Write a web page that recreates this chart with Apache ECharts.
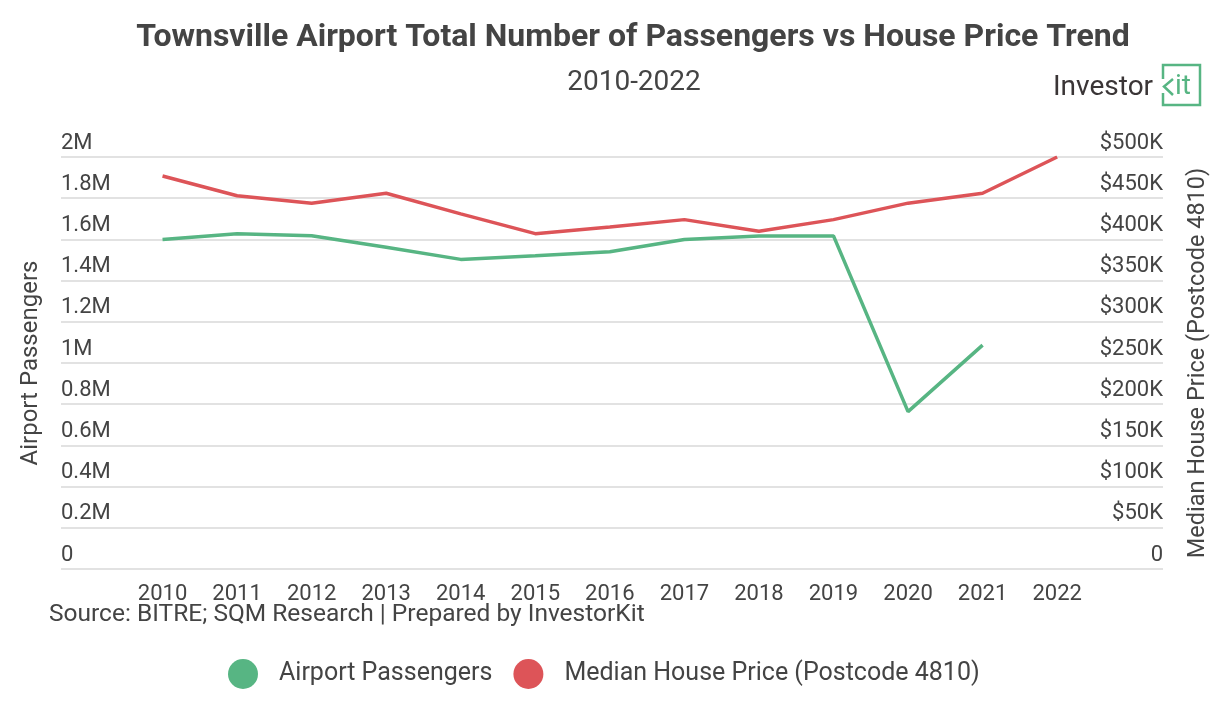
<!DOCTYPE html>
<html>
<head>
<meta charset="utf-8">
<title>Townsville Airport Passengers vs House Price</title>
<script src="https://cdn.jsdelivr.net/npm/echarts@6/dist/echarts.min.js"></script>
<style>
  html, body { margin: 0; padding: 0; background: #fff; }
  #chart { width: 1225px; height: 705px; }
</style>
</head>
<body>
<div id="chart"></div>
<script>
const years = [2010, 2011, 2012, 2013, 2014, 2015, 2016, 2017, 2018, 2019, 2020, 2021, 2022]
// airport passengers (2022 not reported)
const passengers = [1600000, 1628000, 1618000, 1562000, 1503000, 1521000, 1540000, 1600000, 1617000, 1617000, 764000, 1087000, null]
// median house price, postcode 4810
const housePrice = [477000, 453000, 444000, 456000, 431000, 407000, 415000, 424000, 410000, 424000, 444000, 456000, 500000]

const green = '#57b583'
const red = '#dd5458'
const textColor = '#444'
const font = 'Roboto'

const chart = echarts.init(document.getElementById('chart'))

const fmtLeft = v => {
  if (v === 0) return '0'
  const m = v / 1000000
  return (Math.round(m * 10) / 10) + 'M'
}
const fmtRight = v => (v === 0 ? '0' : '$' + Math.round(v / 1000) + 'K')

const option = {
  animation: false,
  textStyle: { fontFamily: font },
  legend: {
    left: 223,
    top: 654,
    icon: 'circle',
    itemWidth: 30,
    itemHeight: 30,
    itemGap: 21,
    textStyle: { fontFamily: font, fontSize: 25, color: textColor, padding: [0, 0, 0, 16] },
    data: ['Airport Passengers', 'Median House Price (Postcode 4810)']
  },
  grid: {
    left: 61,
    right: 62,
    top: 157,
    bottom: 705 - 569
  },
  xAxis: {
    type: 'value',
    min: 2008.638,
    max: 2023.42,
    splitLine: { show: false },
    axisLine: { show: false },
    axisTick: { show: false },
    axisLabel: {
      customValues: years,
      formatter: v => String(v),
      fontFamily: font,
      fontSize: 22,
      color: textColor,
      margin: 14
    }
  },
  yAxis: [
    {
      type: 'value',
      min: 0,
      max: 2000000,
      interval: 200000,
      name: 'Airport Passengers',
      nameLocation: 'middle',
      nameGap: 18,
      nameTextStyle: { fontFamily: font, fontSize: 24, color: textColor },
      axisLine: { show: false },
      axisTick: { show: false },
      splitLine: { lineStyle: { color: '#d9d9d9', width: 1.5 } },
      axisLabel: {
        inside: true,
        margin: 0,
        verticalAlign: 'bottom',
        padding: [0, 0, 3, 0],
        fontFamily: font,
        fontSize: 22,
        color: textColor,
        formatter: fmtLeft
      }
    },
    {
      type: 'value',
      min: 0,
      max: 500000,
      interval: 50000,
      position: 'right',
      name: 'Median House Price (Postcode 4810)',
      nameLocation: 'middle',
      nameGap: 23,
      nameTextStyle: { fontFamily: font, fontSize: 23.5, color: textColor },
      axisLine: { show: false },
      axisTick: { show: false },
      splitLine: { show: false },
      axisLabel: {
        inside: true,
        margin: 0,
        verticalAlign: 'bottom',
        padding: [0, 0, 3, 0],
        fontFamily: font,
        fontSize: 22,
        color: textColor,
        formatter: fmtRight
      }
    }
  ],
  graphic: [
    {
      type: 'text',
      x: 633,
      y: 38,
      style: {
        text: 'Townsville Airport Total Number of Passengers vs House Price Trend',
        align: 'center',
        verticalAlign: 'middle',
        fontFamily: font,
        fontSize: 32,
        fontWeight: 'bold',
        fill: textColor
      }
    },
    {
      type: 'text',
      x: 634,
      y: 83,
      style: {
        text: '2010-2022',
        align: 'center',
        verticalAlign: 'middle',
        fontFamily: font,
        fontSize: 28,
        fill: textColor
      }
    },
    {
      type: 'text',
      x: 49,
      y: 615,
      style: {
        text: 'Source: BITRE; SQM Research | Prepared by InvestorKit',
        verticalAlign: 'middle',
        fontFamily: font,
        fontSize: 24.5,
        fill: textColor
      }
    },
    // InvestorKit logo
    {
      type: 'text',
      x: 1053,
      y: 88,
      style: { text: 'Investor', verticalAlign: 'middle', fontFamily: font, fontSize: 28, fill: '#3a3536' }
    },
    {
      type: 'polyline',
      shape: { points: [[1163, 79], [1163, 65], [1200, 65], [1200, 105], [1163, 105], [1163, 93]] },
      style: { stroke: green, lineWidth: 2.5, fill: null }
    },
    {
      type: 'polyline',
      shape: { points: [[1173, 79], [1164, 86.5], [1173, 95]] },
      style: { stroke: green, lineWidth: 2.5, fill: null }
    },
    {
      type: 'text',
      x: 1175,
      y: 87,
      style: { text: 'it', verticalAlign: 'middle', fontFamily: font, fontSize: 28, fill: green }
    }
  ],
  series: [
    {
      name: 'Airport Passengers',
      type: 'line',
      yAxisIndex: 0,
      showSymbol: false,
      symbol: 'circle',
      itemStyle: { color: green },
      lineStyle: { color: green, width: 3.5 },
      data: years.map((y, i) => [y, passengers[i]])
    },
    {
      name: 'Median House Price (Postcode 4810)',
      type: 'line',
      yAxisIndex: 1,
      showSymbol: false,
      symbol: 'circle',
      itemStyle: { color: red },
      lineStyle: { color: red, width: 3.5 },
      data: years.map((y, i) => [y, housePrice[i]])
    }
  ]
}

chart.setOption(option)
</script>
</body>
</html>
